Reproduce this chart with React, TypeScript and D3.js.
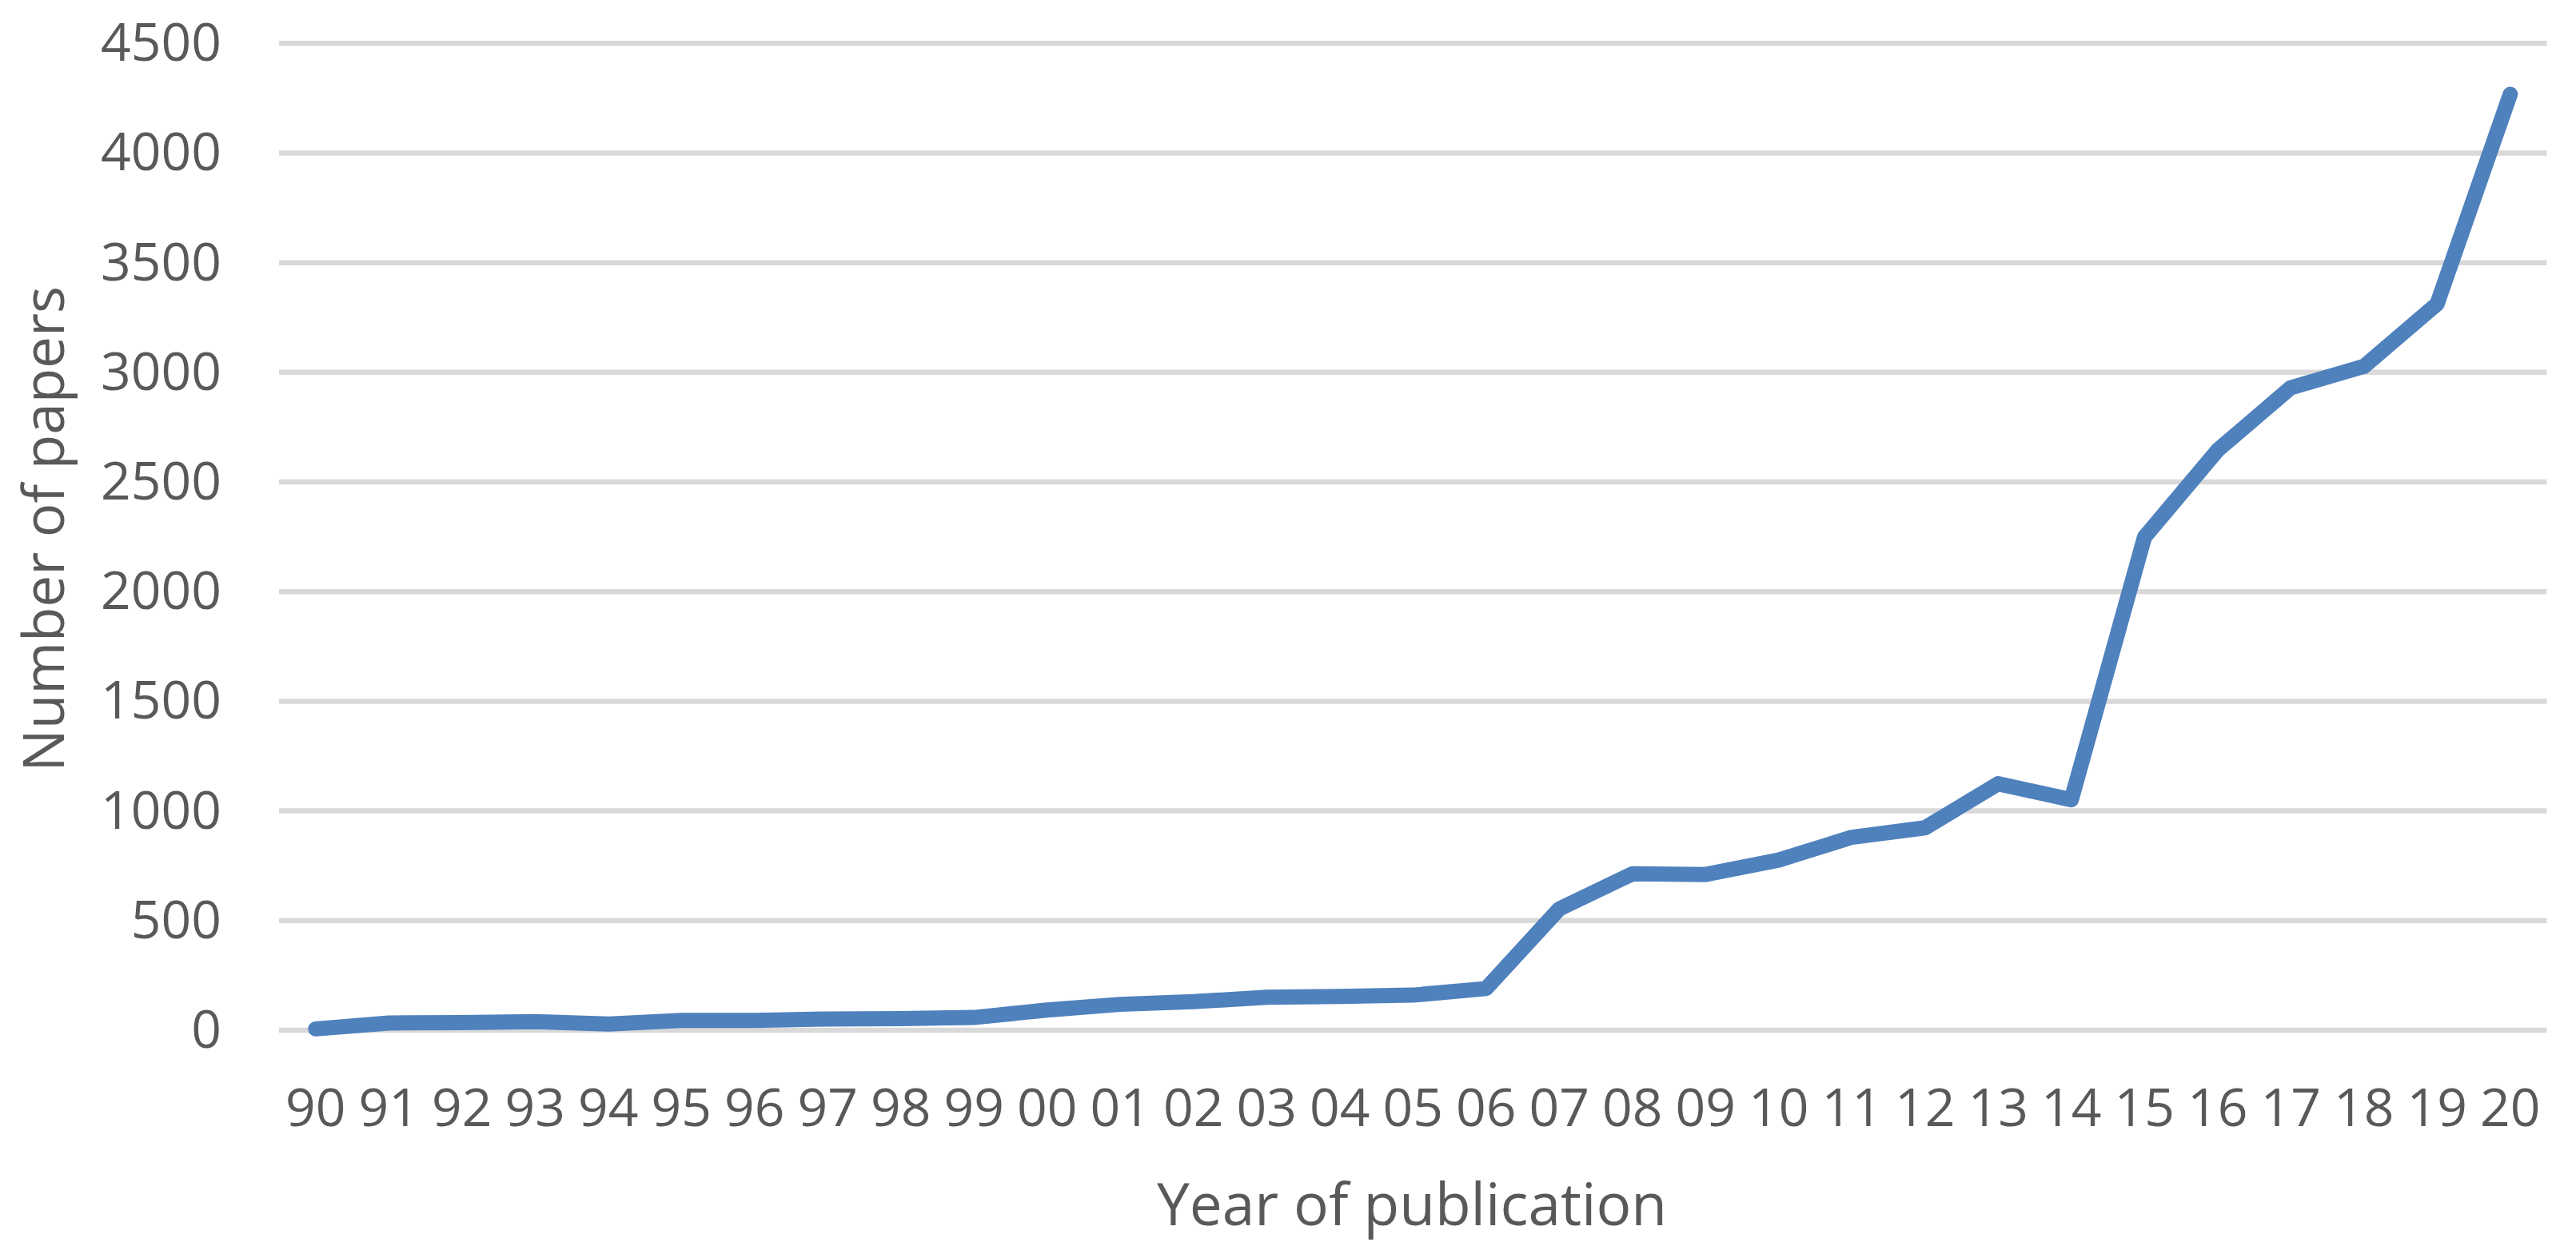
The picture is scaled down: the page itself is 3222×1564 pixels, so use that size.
import React from "react";
import * as d3 from "d3";

const years = ["90","91","92","93","94","95","96","97","98","99","00","01","02","03","04","05","06","07","08","09","10","11","12","13","14","15","16","17","18","19","20"];
const papers = [6, 33, 35, 39, 28, 45, 45, 51, 53, 58, 92, 118, 130, 150, 154, 160, 190, 553, 713, 710, 776, 880, 923, 1124, 1051, 2248, 2645, 2930, 3027, 3312, 4268];
const yTicks = [0, 500, 1000, 1500, 2000, 2500, 3000, 3500, 4000, 4500];
const xTitle = "Year of publication";
const yTitle = "Number of papers";

const W = 3222;
const H = 1564;
const FONT = "'Open Sans', 'Noto Sans', sans-serif";
const TEXT = "#595959";

export default function App() {
  const x = d3.scaleBand<string>().domain(years).range([349, 3185.5]);
  const y = d3.scaleLinear().domain([0, 4500]).range([1289, 54.3]);
  const cx = (c: string) => (x(c) as number) + x.bandwidth() / 2;
  const line = d3
    .line<number>()
    .x((_, i) => cx(years[i]))
    .y((d) => y(d));

  return (
    <svg
      width={W}
      height={H}
      viewBox={`0 0 ${W} ${H}`}
      style={{ position: "absolute", left: 0, top: 0, background: "#fff" }}
    >
      <rect x={0} y={0} width={W} height={H} fill="#ffffff" />
      {yTicks.map((t) => (
        <g key={t}>
          <line x1={349} x2={3185.5} y1={y(t)} y2={y(t)} stroke="#D9D9D9" strokeWidth={6.5} />
          <text
            x={277}
            y={y(t) + 22}
            textAnchor="end"
            fontFamily={FONT}
            fontSize={66}
            fill={TEXT}
          >
            {t}
          </text>
        </g>
      ))}
      {years.map((c) => (
        <text
          key={c}
          x={cx(c)}
          y={1409}
          textAnchor="middle"
          fontFamily={FONT}
          fontSize={66}
          fill={TEXT}
        >
          {c}
        </text>
      ))}
      <path
        d={line(papers) || ""}
        fill="none"
        stroke="#4F81BD"
        strokeWidth={19}
        strokeLinejoin="round"
        strokeLinecap="round"
      />
      <text x={1766} y={1533} textAnchor="middle" fontFamily={FONT} fontSize={73} fill={TEXT}>
        {xTitle}
      </text>
      <text
        transform={`translate(80, 662) rotate(-90)`}
        textAnchor="middle"
        fontFamily={FONT}
        fontSize={71}
        fill={TEXT}
      >
        {yTitle}
      </text>
    </svg>
  );
}
